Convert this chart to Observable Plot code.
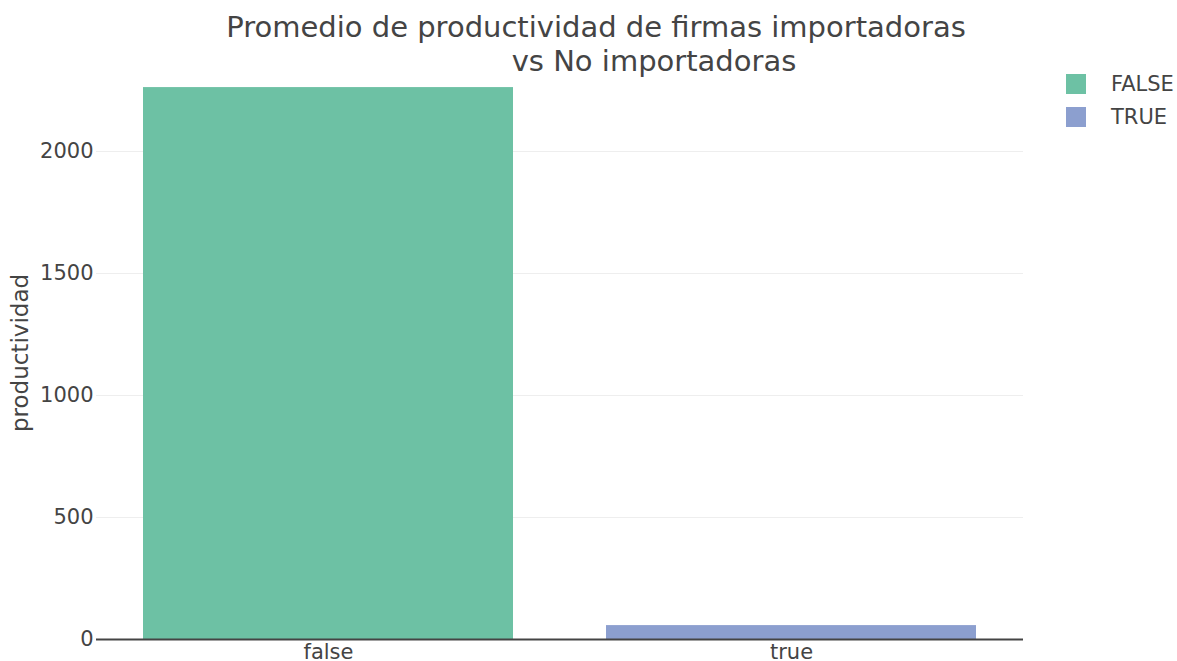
<!DOCTYPE html>
<html>
<head>
<meta charset="utf-8">
<script src="https://cdn.jsdelivr.net/npm/d3@7"></script>
<script src="https://cdn.jsdelivr.net/npm/@observablehq/plot@0.6"></script>
<style>
  html, body { margin: 0; padding: 0; background: #fff; }
  #wrap { position: relative; width: 1177px; height: 661px; font-family: "DejaVu Sans", sans-serif; color: #444; }
  #chart { position: absolute; left: 0; top: 0; }
  .title { position: absolute; font-size: 29px; white-space: nowrap; transform: translateX(-50%); line-height: 1; }
  .legend { position: absolute; left: 1066px; top: 67px; font-size: 21px; }
  .legend .item { display: flex; align-items: center; height: 33px; }
  .legend .sw { width: 20px; height: 20px; margin-right: 25px; }
</style>
</head>
<body>
<div id="wrap">
  <div id="chart"></div>
  <div class="title" id="t1" style="left:596px; top:13px;"></div>
  <div class="title" id="t2" style="left:654px; top:47px;"></div>
  <div class="legend" id="legend"></div>
</div>
<script>
const categories = ["false", "true"];
const legendLabels = ["FALSE", "TRUE"];
const productividad = [2262, 57];
const colors = ["#6dc1a4", "#8c9fcf"];
const titleLines = ["Promedio de productividad de firmas importadoras", "vs No importadoras"];
const yTicks = [0, 500, 1000, 1500, 2000];
const yLabel = "productividad";

document.getElementById("t1").textContent = titleLines[0];
document.getElementById("t2").textContent = titleLines[1];

const data = categories.map((c, i) => ({cat: c, value: productividad[i], color: colors[i]}));

const plot = Plot.plot({
  width: 1040,
  height: 661,
  marginLeft: 96,
  marginRight: 17,
  marginTop: 60,
  marginBottom: 22,
  style: {fontFamily: "DejaVu Sans, sans-serif", fontSize: "21px", color: "#444", background: "transparent"},
  x: {domain: categories, paddingInner: 0.2, paddingOuter: 0.1, label: null},
  y: {domain: [0, 2373], label: null},
  marks: [
    Plot.gridY(yTicks.filter(d => d > 0), {stroke: "#eee", strokeOpacity: 1, strokeWidth: 1}),
    Plot.barY(data, {x: "cat", y: "value", fill: "color"}),
    Plot.ruleY([0], {stroke: "#444", strokeWidth: 2}),
    Plot.axisY({ticks: yTicks, tickSize: 0, tickPadding: 3, label: null, fill: "#444", fontSize: 21, tickFormat: d => String(d)}),
    Plot.axisX({tickSize: 0, tickPadding: 5, label: null, fill: "#444", fontSize: 21}),
    Plot.text([yLabel], {frameAnchor: "left", textAnchor: "middle", dx: -76, dy: 3, rotate: -90, fontSize: 23, fill: "#444", text: d => d})
  ]
});
document.getElementById("chart").appendChild(plot);

const lg = document.getElementById("legend");
legendLabels.forEach((l, i) => {
  const it = document.createElement("div");
  it.className = "item";
  it.innerHTML = `<div class="sw" style="background:${colors[i]}"></div><span>${l}</span>`;
  lg.appendChild(it);
});
</script>
</body>
</html>
